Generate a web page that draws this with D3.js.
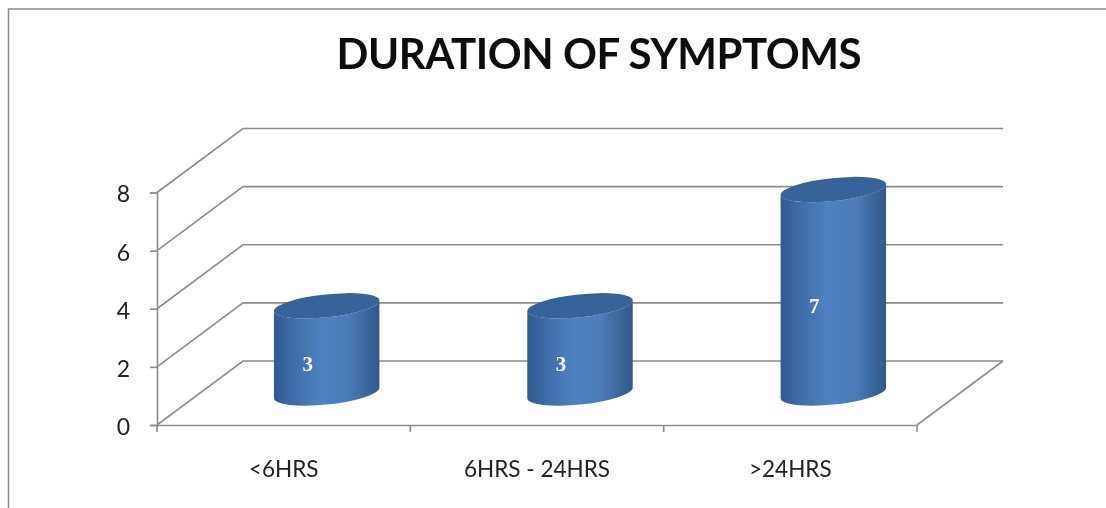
<!DOCTYPE html>
<meta charset="utf-8"/>
<style>
  html, body { margin: 0; background: #fff; }
  svg { display: block; }
</style>
<svg width="1106" height="508"></svg>
<script src="https://d3js.org/d3.v7.min.js"></script>
<script>

var categories = ["<6HRS", "6HRS - 24HRS", ">24HRS"];
var values = [3, 3, 7];
var yTicks = [0, 2, 4, 6, 8];
var title = "DURATION OF SYMPTOMS";

var svg = d3.select("svg"),
    grey = "#8c8c8c",
    depth = {x: 86, y: -64},   // how far the back wall sits from the front axes
    rx = 53, ry = 11.5, tilt = -6;

var x = d3.scaleBand().domain(categories).range([157, 917]);
var y = d3.scaleLinear().domain([0, 8]).range([425, 192.5]);

var defs = svg.append("defs");
var grad = defs.append("linearGradient").attr("id", "side");
[[0, "#2f5a8e"], [0.2, "#3d6faa"], [0.45, "#4f82c2"], [0.7, "#4a7cb9"], [1, "#2f5987"]]
  .forEach(function(s) {
    grad.append("stop").attr("offset", s[0]).attr("stop-color", s[1]);
  });
defs.append("filter").attr("id", "soft")
  .attr("filterUnits", "userSpaceOnUse")
  .attr("x", 0).attr("y", 0).attr("width", 1106).attr("height", 508)
  .append("feGaussianBlur").attr("stdDeviation", 0.7);

var page = svg.append("g").attr("filter", "url(#soft)");

// picture frame, the right side is cropped off
page.append("path")
    .attr("d", "M8.5,508V9H1106")
    .attr("fill", "none")
    .attr("stroke", "#8a8a8a")
    .attr("stroke-width", 1.5);

page.append("text")
    .attr("x", 599)
    .attr("y", 69)
    .attr("text-anchor", "middle")
    .attr("textLength", 525)
    .attr("lengthAdjust", "spacing")
    .style("font-family", "Lato")
    .style("font-weight", 700)
    .style("font-size", "42px")
    .style("fill", "#111")
    .text(title);

var chart = page.append("g");

// back wall gridlines and the slanted side wall
chart.append("g").selectAll("path")
  .data(yTicks)
  .join("path")
    .attr("fill", "none")
    .attr("stroke", grey)
    .attr("stroke-width", 1.6)
    .attr("d", function(d) {
      return "M" + x.range()[0] + "," + y(d) +
        "L" + (x.range()[0] + depth.x) + "," + (y(d) + depth.y) +
        "H" + (x.range()[1] + depth.x);
    });

// floor, right edge
chart.append("line")
    .attr("x1", x.range()[1])
    .attr("y1", y(0))
    .attr("x2", x.range()[1] + depth.x)
    .attr("y2", y(0) + depth.y)
    .attr("stroke", grey)
    .attr("stroke-width", 1.6);

var yAxis = chart.append("g")
    .attr("transform", "translate(" + x.range()[0] + ",0)")
    .call(d3.axisLeft(y).tickValues(yTicks).tickSize(7).tickPadding(20).tickFormat(d3.format("d")));

var xAxis = chart.append("g")
    .attr("transform", "translate(0," + y(0) + ")")
    .call(d3.axisBottom(x).tickSizeInner(0).tickSizeOuter(0).tickPadding(36));

xAxis.selectAll(".edge")
  .data(d3.range(categories.length + 1))
  .join("line")
    .attr("class", "edge")
    .attr("x1", function(i) { return x.range()[0] + i * x.step(); })
    .attr("x2", function(i) { return x.range()[0] + i * x.step(); })
    .attr("y2", 7);

chart.selectAll(".domain, .tick line, .edge")
    .attr("stroke", grey)
    .attr("stroke-width", 1.6);

yAxis.selectAll("text")
    .attr("y", 2)
    .style("font-family", "Lato")
    .style("font-size", "23px")
    .style("fill", "#222");

xAxis.selectAll("text")
    .style("font-family", "Lato")
    .style("font-size", "22.5px")
    .style("fill", "#222");

// outline of one tilted cylinder, worked out from the ellipse extremes
var phi = tilt * Math.PI / 180,
    ex = Math.sqrt(rx * rx * Math.cos(phi) * Math.cos(phi) + ry * ry * Math.sin(phi) * Math.sin(phi)),
    ey = (rx * rx - ry * ry) * Math.sin(phi) * Math.cos(phi) / ex;

function barX(d) { return x(d) + x.bandwidth() / 2 + depth.x / 2; }
function barBase() { return y(0) + depth.y / 2; }
function barTop(v) { return barBase() - (y(0) - y(v)); }

function sidePath(c, v) {
  var arc = "A" + rx + "," + ry + " " + tilt + " 0 ";
  return "M" + (c - ex) + "," + (barTop(v) - ey) +
    "L" + (c - ex) + "," + (barBase() - ey) +
    arc + "0 " + (c + ex) + "," + (barBase() + ey) +
    "L" + (c + ex) + "," + (barTop(v) + ey) +
    arc + "1 " + (c - ex) + "," + (barTop(v) - ey) + "Z";
}

var bars = chart.selectAll(".bar")
  .data(categories)
  .join("g")
    .attr("class", "bar");

bars.append("path")
    .attr("fill", "url(#side)")
    .attr("d", function(d, i) { return sidePath(barX(d), values[i]); });

bars.append("ellipse")
    .attr("rx", rx)
    .attr("ry", ry)
    .attr("fill", "#34649a")
    .attr("transform", function(d, i) {
      return "translate(" + barX(d) + "," + barTop(values[i]) + ") rotate(" + tilt + ")";
    });

bars.append("text")
    .attr("x", function(d) { return barX(d) - 19; })
    .attr("y", function(d, i) { return (barTop(values[i]) + barBase()) / 2 + 22; })
    .attr("text-anchor", "middle")
    .style("font-family", "Liberation Serif")
    .style("font-weight", 700)
    .style("font-size", "21px")
    .style("fill", "#fff")
    .text(function(d, i) { return values[i]; });

</script>
